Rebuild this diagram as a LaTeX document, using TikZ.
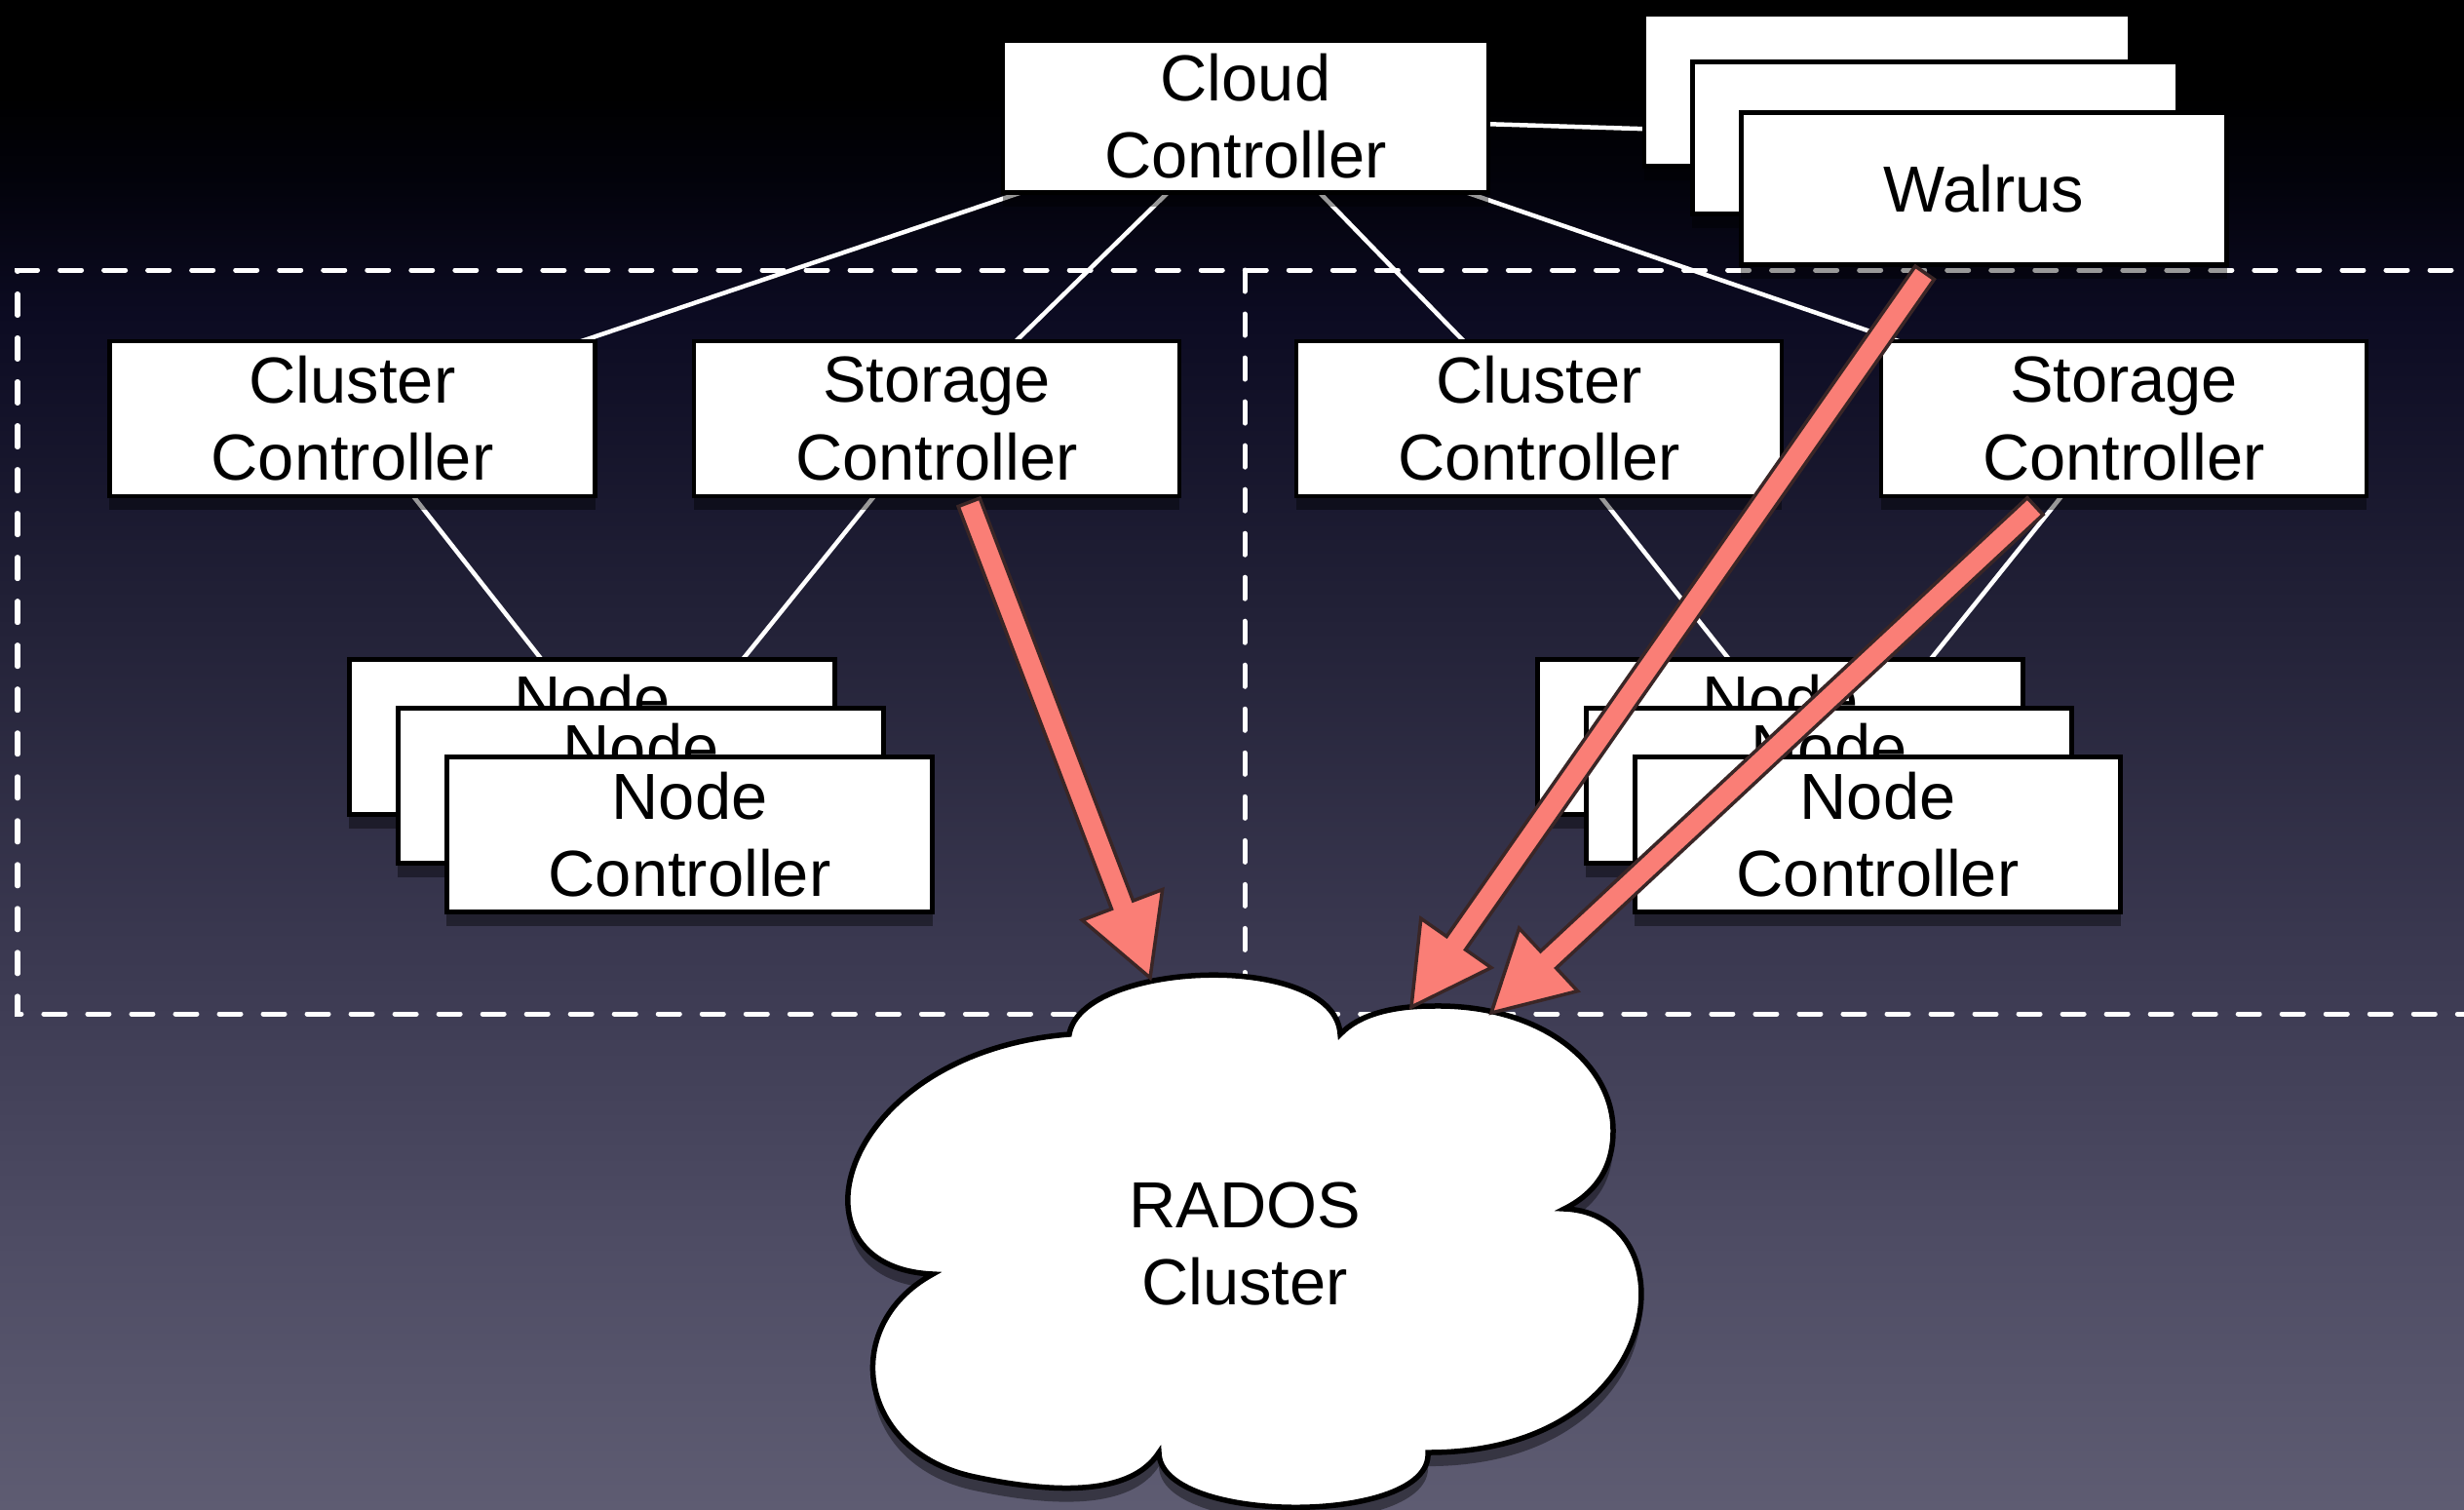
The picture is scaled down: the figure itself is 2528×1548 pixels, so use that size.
\documentclass[tikz,border=0pt]{standalone}
\usepackage{fontspec}
\setmainfont{Liberation Sans}
\usetikzlibrary{calc,shadows}
\definecolor{salmon}{RGB}{250,126,118}
\definecolor{arrowline}{RGB}{58,38,38}
\definecolor{bgA}{RGB}{94,92,114}
\definecolor{bgB}{RGB}{79,77,101}
\definecolor{bgC}{RGB}{58,56,80}
\definecolor{bgD}{RGB}{35,34,56}
\definecolor{bgE}{RGB}{12,11,34}
\definecolor{bgF}{RGB}{2,2,10}
\pgfdeclareverticalshading{bgshade}{100bp}{color(0bp)=(bgA); color(25bp)=(bgA); color(33.33bp)=(bgB); color(43.77bp)=(bgC); color(54.17bp)=(bgD); color(64.6bp)=(bgE); color(69.19bp)=(bgF); color(71.77bp)=(black); color(75bp)=(black); color(100bp)=(black)}
\pgfdeclarelayer{back}
\pgfdeclarelayer{wires}
\pgfsetlayers{back,wires,main}
\tikzset{
  softshadow/.style={drop shadow={shadow xshift=0pt, shadow yshift=-4pt, fill=black, opacity=0.4}},
  box/.style={draw=black, line width=0.045cm, fill=white, minimum width=4.98cm,
    minimum height=1.59cm, inner sep=0pt, align=center,
    font=\fontsize{19}{22.5}\selectfont, softshadow},
  link/.style={draw=white, line width=0.045cm},
  zone/.style={draw=white, line width=0.05cm, dash pattern=on 0.22cm off 0.23cm, line cap=round},
  fat/.style={fill=salmon, draw=arrowline, line width=0.035cm, line join=miter},
  cloudshape/.style={draw=black, line width=0.055cm, fill=white, softshadow},
  cloudtext/.style={align=center, inner sep=0pt, font=\fontsize{19}{22.5}\selectfont}
}
\newcommand\fatarrow[3]{%
  \coordinate (#3h) at ($(#2)!0.8cm!(#1)$);
  \draw[fat] ($(#1)!0.118cm!90:(#2)$) -- ($(#3h)!0.118cm!90:(#2)$)
    -- ($(#3h)!0.44cm!90:(#2)$) -- (#2) -- ($(#3h)!0.44cm!-90:(#2)$)
    -- ($(#3h)!0.118cm!-90:(#2)$) -- ($(#1)!0.118cm!-90:(#2)$) -- cycle;
}
\begin{document}
\begin{tikzpicture}[x=0.01cm, y=-0.01cm]
\useasboundingbox (0,0) rectangle (2528,1548);
\begin{pgfonlayer}{back}
  \shade[shading=bgshade] (0,0) rectangle (2528,1548);
  \draw[zone] (2560,277) -- (18,277) -- (18,1040) -- (2560,1040);
  \draw[zone] (1277,277) -- (1277,1040);
\end{pgfonlayer}

% top level
\node[box, minimum height=1.56cm] (cc) at (1278,119.5) {Cloud\\Controller};
\node[box, minimum height=1.56cm] (w1) at (1936,92.5) {};
\node[box, minimum height=1.56cm] (w2) at (1985.5,141.5) {};
\node[box, minimum height=1.56cm] (w3) at (2035.5,193.5) {Walrus};

% cluster level
\node[box] (cll) at (361.5,429.5) {Cluster\\Controller};
\node[box] (scl) at (961,429.5) {Storage\\Controller};
\node[box] (clr) at (1579,429.5) {Cluster\\Controller};
\node[box] (scr) at (2179,429.5) {Storage\\Controller};

% node controllers
\node[box] (nl1) at (607.5,756) {Node\\Controller};
\node[box] (nl2) at (657.5,806) {Node\\Controller};
\node[box] (nl3) at (707.5,856) {Node\\Controller};
\node[box] (nr1) at (1826.5,756) {Node\\Controller};
\node[box] (nr2) at (1876.5,806) {Node\\Controller};
\node[box] (nr3) at (1926.5,856) {Node\\Controller};

\begin{pgfonlayer}{wires}
  \draw[link] (cc.center) -- (cll.center);
  \draw[link] (cc.center) -- (scl.center);
  \draw[link] (cc.center) -- (clr.center);
  \draw[link] (cc.center) -- (scr.center);
  \draw[link] (cc.center) -- (w2.center);
  \draw[link] (cll.center) -- (nl2.center);
  \draw[link] (scl.center) -- (nl2.center);
  \draw[link] (clr.center) -- (nr2.center);
  \draw[link] (scr.center) -- (nr2.center);
\end{pgfonlayer}

% RADOS cloud
\path[cloudshape] (1097,1061)
  .. controls (1110,985) and (1370,975) .. (1375,1061)
  .. controls (1395,1040) and (1430,1032) .. (1470,1032)
  .. controls (1580,1030) and (1655,1090) .. (1655,1160)
  .. controls (1655,1200) and (1635,1225) .. (1605,1240)
  .. controls (1735,1245) and (1715,1490) .. (1465,1490)
  .. controls (1470,1565) and (1190,1565) .. (1189,1490)
  .. controls (1160,1535) and (1080,1532) .. (1000,1515)
  .. controls (880,1490) and (860,1360) .. (957,1307)
  .. controls (800,1300) and (860,1080) .. (1097,1061) -- cycle;
\node[cloudtext] (rados) at (1277,1276) {RADOS\\Cluster};

% red arrows
\coordinate (s1) at ($(scl.south west)!0.566!(scl.south east)+(0,4)$);
\coordinate (s2) at ($(w3.south west)!0.379!(w3.south east)+(0,6)$);
\coordinate (s3) at ($(scr.south west)!0.319!(scr.south east)+(0,8)$);
\coordinate (t1) at (1180,1003);
\coordinate (t2) at (1448,1033);
\coordinate (t3) at (1530,1039);
\fatarrow{s1}{t1}{aone}
\fatarrow{s2}{t2}{atwo}
\fatarrow{s3}{t3}{athree}
\end{tikzpicture}
\end{document}
